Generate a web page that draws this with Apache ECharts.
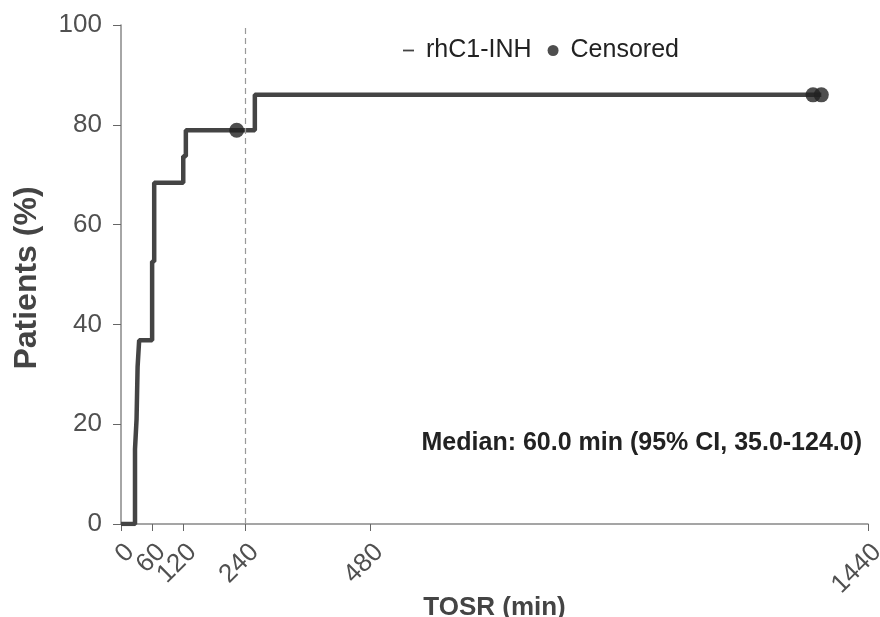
<!DOCTYPE html>
<html>
<head>
<meta charset="utf-8">
<script src="https://cdn.jsdelivr.net/npm/echarts@6/dist/echarts.min.js"></script>
<style>
  html, body { margin: 0; padding: 0; background: #fff; }
  #chart { width: 880px; height: 617px; }
</style>
</head>
<body>
<div id="chart"></div>
<script>
// Kaplan-Meier step points (time in min, % patients)
const kmTimes = [0, 27, 30, 32, 35, 60, 64, 120, 125, 258, 1350]
const kmValues = [0, 15, 21, 31.5, 36.8, 52.6, 68.4, 73.7, 78.9, 86, 86]
// censored patients
const censorTimes = [223, 1334, 1350]
const censorValues = [78.9, 86, 86]
const xTicks = [0, 60, 120, 240, 480, 1440]
const refTime = 240
// labels split over two stacked axes so the crowded 0/60/120 all stay visible
const xLabelsA = [0, 120, 480]
const xLabelsB = [60, 240, 1440]

let chart = echarts.init(document.getElementById('chart'))

const tickLabel = vals => ({
  fontSize: 26,
  color: '#505050',
  rotate: 45,
  margin: 15,
  verticalAlign: 'top',
  hideOverlap: false,
  customValues: vals,
  formatter: v => String(v)
})

const option = {
  animation: false,
  textStyle: { fontFamily: 'Liberation Sans, Arial, sans-serif' },
  grid: { left: 121, right: 12, top: 25, bottom: 93, outerBoundsMode: 'none', containLabel: false },
  legend: {
    left: 398,
    top: 33,
    itemWidth: 11,
    itemHeight: 11,
    itemGap: 16,
    textStyle: { fontSize: 25, color: '#222', padding: [0, 0, 0, 7] },
    data: [
      { name: 'rhC1-INH', icon: 'path://M0,0h8v1.3H0z' },
      { name: 'Censored', icon: 'circle' }
    ]
  },
  xAxis: [
    {
      type: 'value',
      min: 0,
      max: 1440,
      name: 'TOSR (min)',
      nameLocation: 'middle',
      nameGap: 67,
      nameTextStyle: { fontSize: 26, fontWeight: 'bold', color: '#444' },
      splitLine: { show: false },
      axisLine: { lineStyle: { color: '#888', width: 1.5 } },
      axisTick: { length: 7, lineStyle: { color: '#666' }, customValues: xTicks },
      axisLabel: tickLabel(xLabelsA)
    },
    {
      type: 'value',
      min: 0,
      max: 1440,
      position: 'bottom',
      offset: 0,
      splitLine: { show: false },
      axisLine: { show: false },
      axisTick: { show: false },
      axisLabel: tickLabel(xLabelsB)
    }
  ],
  yAxis: {
    type: 'value',
    min: 0,
    max: 100,
    interval: 20,
    name: 'Patients (%)',
    nameLocation: 'middle',
    nameGap: 78,
    nameTextStyle: { fontSize: 32, fontWeight: 'bold', color: '#444', padding: [0, 7, 0, 0] },
    splitLine: { show: false },
    axisLine: { show: true, lineStyle: { color: '#888', width: 1.5 } },
    axisTick: { show: true, length: 8, lineStyle: { color: '#666' } },
    axisLabel: { fontSize: 26, color: '#505050', margin: 19 }
  },
  graphic: [{
    type: 'text',
    right: 18,
    top: 431,
    style: {
      text: 'Median: 60.0 min (95% CI, 35.0-124.0)',
      font: 'bold 25px Liberation Sans, Arial, sans-serif',
      fill: '#222'
    }
  }],
  series: [
    {
      name: 'rhC1-INH',
      type: 'line',
      step: 'end',
      showSymbol: false,
      color: '#444',
      lineStyle: { width: 4.5, color: '#444' },
      data: kmTimes.map((t, i) => [t, kmValues[i]]),
      markLine: {
        silent: true,
        symbol: 'none',
        label: { show: false },
        lineStyle: { type: [6, 4], color: '#999', width: 1.2 },
        data: [{ xAxis: refTime }]
      },
      z: 2
    },
    {
      name: 'Censored',
      type: 'scatter',
      symbol: 'circle',
      symbolSize: 15,
      color: '#222',
      itemStyle: { color: '#222' },
      data: censorTimes.map((t, i) => [t, censorValues[i]]),
      z: 3
    }
  ]
}
chart.setOption(option)
window.addEventListener('resize', () => chart.resize())
</script>
</body>
</html>
